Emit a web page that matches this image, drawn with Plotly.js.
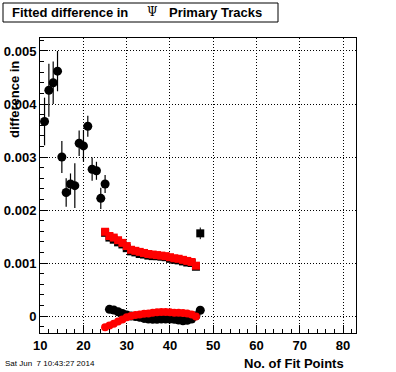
<!DOCTYPE html>
<html>
<head>
<meta charset="utf-8">
<script src="https://cdn.plot.ly/plotly-3.0.1.min.js"></script>
<style>html,body{margin:0;padding:0;background:#fff;}#chart{width:396px;height:372px;}</style>
</head>
<body>
<div id="chart"></div>
<script>
// Black circles (No. of Fit Points 11..47)
const blackCircleX = [11,12,13,14,15,16,17,18,19,20,21,22,23,24,25,26,27,28,29,30,31,32,33,34,35,36,37,38,39,40,41,42,43,44,45,46,47];
const blackCircleY = [0.00367,0.00426,0.00440,0.00462,0.00300,0.00233,0.00249,0.00246,0.00326,0.00321,0.00358,0.00277,0.00274,0.00222,0.00249,
  0.000126,0.000113,0.00008,0.00005,0.00002,0.0,-0.00001,-0.000025,-0.000045,-0.000055,-0.00006,-0.00006,-0.000055,-0.000055,-0.000055,-0.00006,-0.000075,-0.00009,-0.00008,-0.000055,0.000005,0.00011];
const blackCircleErr = [0.00045,0.0005,0.0004,0.00038,0.0003,0.00027,0.0002,0.00042,0.00024,0.0003,0.0002,0.00022,0.00017,0.0002,0.00017,
  0.00002,0.00002,0.00002,0.00002,0.00002,0.00002,0.00002,0.00002,0.00002,0.00002,0.00002,0.00002,0.00002,0.00002,0.00002,0.00002,0.00002,0.00002,0.00002,0.00002,0.00003,0.00006];
// Black squares (mostly hidden under the red squares)
const blackSquareX = [25,26,27,28,29,30,31,32,33,34,35,36,37,38,39,40,41,42,43,44,45,46,47];
const blackSquareY = [0.00157,0.00148,0.00144,0.00139,0.00135,0.00128,0.00122,0.00120,0.00117,0.00116,0.00114,0.00113,0.00113,0.00112,0.00111,0.00108,0.00106,0.00105,0.00103,0.00101,0.00100,0.00093,0.00156];
const blackSquareErr = [0.00002,0.00002,0.00002,0.00002,0.00002,0.00002,0.00002,0.00002,0.00002,0.00002,0.00002,0.00002,0.00002,0.00002,0.00002,0.00002,0.00002,0.00002,0.00002,0.00002,0.00002,0.00002,0.00011];
// Red squares
const redSquareX = [25,26,27,28,29,30,31,32,33,34,35,36,37,38,39,40,41,42,43,44,45,46];
const redSquareY = [0.00159,0.00151,0.00148,0.00143,0.00138,0.00132,0.00125,0.00123,0.00121,0.00119,0.00117,0.00116,0.00115,0.00114,0.00113,0.00111,0.00109,0.00108,0.00106,0.00104,0.00102,0.00095];
// Red circles
const redCircleX = [25,26,27,28,29,30,31,32,33,34,35,36,37,38,39,40,41,42,43,44,45,46];
const redCircleY = [-0.00021,-0.00018,-0.000145,-0.000105,-0.000065,-0.000025,0.0,0.00002,0.00003,0.000045,0.00005,0.00006,0.00007,0.000075,0.000075,0.00007,0.00006,0.00006,0.000055,0.00005,0.00003,-0.00001];
// Tick labels
const xTickVals = [10,20,30,40,50,60,70,80];
const xTickText = ['10','20','30','40','50','60','70','80'];
const yTickVals = [0,0.001,0.002,0.003,0.004,0.005];
const yTickText = ['0','0.001','0.002','0.003','0.004','0.005'];

const F = 'Liberation Sans, Arial, Helvetica, sans-serif';
const px2x = p => (p - 40) / 316;
const px2y = p => (333 - p) / 295;

const traces = [
  {x: blackSquareX, y: blackSquareY, type: 'scatter', mode: 'markers',
   marker: {symbol: 'square', size: 8, color: '#000'},
   error_y: {type: 'data', array: blackSquareErr, visible: true, color: '#000', thickness: 1, width: 0}},
  {x: blackCircleX, y: blackCircleY, type: 'scatter', mode: 'markers',
   marker: {symbol: 'circle', size: 9, color: '#000'},
   error_y: {type: 'data', array: blackCircleErr, visible: true, color: '#000', thickness: 1.2, width: 0}},
  {x: redSquareX, y: redSquareY, type: 'scatter', mode: 'markers',
   marker: {symbol: 'square', size: 8, color: '#ff0000'}},
  {x: redCircleX, y: redCircleY, type: 'scatter', mode: 'markers',
   marker: {symbol: 'circle', size: 8, color: '#ff0000'}}
];

const layout = {
  width: 396, height: 372,
  margin: {l: 40, r: 40, t: 38, b: 39, pad: 0},
  paper_bgcolor: '#fff', plot_bgcolor: '#fff',
  showlegend: false,
  font: {family: F, size: 13, color: '#000'},
  xaxis: {
    range: [9.95, 83], tickmode: 'array', tickvals: xTickVals, ticktext: xTickText,
    ticks: 'inside', ticklen: 8, tickwidth: 1, tickcolor: '#000',
    minor: {dtick: 2, tick0: 10, ticks: 'inside', ticklen: 4, tickcolor: '#000', showgrid: false},
    showgrid: true, gridcolor: '#000', gridwidth: 1, griddash: '1px,2px',
    zeroline: false, showline: true, linecolor: '#000', linewidth: 1, mirror: true,
    tickfont: {family: F, size: 13, weight: 'bold', color: '#000'}
  },
  yaxis: {
    range: [-0.00032, 0.005245], tickmode: 'array', tickvals: yTickVals, ticktext: yTickText,
    ticks: 'inside', ticklen: 8, tickwidth: 1, tickcolor: '#000',
    minor: {dtick: 0.0002, tick0: 0, ticks: 'inside', ticklen: 4, tickcolor: '#000', showgrid: false},
    showgrid: true, gridcolor: '#000', gridwidth: 1, griddash: '1px,2px',
    zeroline: false, showline: true, linecolor: '#000', linewidth: 1, mirror: true,
    tickfont: {family: F, size: 13, weight: 'bold', color: '#000'}
  },
  shapes: [
    {type: 'rect', xref: 'paper', yref: 'paper', x0: px2x(3), x1: px2x(278), y0: px2y(22), y1: px2y(3),
     line: {color: '#000', width: 1}, fillcolor: 'rgba(0,0,0,0)'}
  ],
  annotations: [
    {xref: 'paper', yref: 'paper', x: px2x(10), y: px2y(12.5), xanchor: 'left', yanchor: 'middle',
     text: 'Fitted difference in', showarrow: false, font: {family: F, size: 13, weight: 'bold', color: '#000'}},
    {xref: 'paper', yref: 'paper', x: px2x(152), y: px2y(12.5), xanchor: 'center', yanchor: 'middle',
     text: 'Ψ', showarrow: false, font: {family: 'DejaVu Serif, serif', size: 12, color: '#000'}},
    {xref: 'paper', yref: 'paper', x: px2x(167), y: px2y(12.5), xanchor: 'left', yanchor: 'middle',
     text: 'Primary Tracks', showarrow: false, font: {family: F, size: 13, weight: 'bold', color: '#000'}},
    {xref: 'paper', yref: 'paper', x: px2x(14), y: px2y(100), xanchor: 'center', yanchor: 'middle', textangle: -90,
     text: 'difference in', showarrow: false, font: {family: F, size: 13, weight: 'bold', color: '#000'}},
    {xref: 'paper', yref: 'paper', x: px2x(346), y: px2y(363), xanchor: 'right', yanchor: 'middle',
     text: 'No. of Fit Points', showarrow: false, font: {family: F, size: 13, weight: 'bold', color: '#000'}},
    {xref: 'paper', yref: 'paper', x: px2x(3), y: px2y(364), xanchor: 'left', yanchor: 'middle',
     text: 'Sat Jun \u00a07 10:43:27 2014', showarrow: false, font: {family: F, size: 8, color: '#000'}}
  ]
};

Plotly.newPlot('chart', traces, layout, {staticPlot: true, displayModeBar: false});
</script>
</body>
</html>
